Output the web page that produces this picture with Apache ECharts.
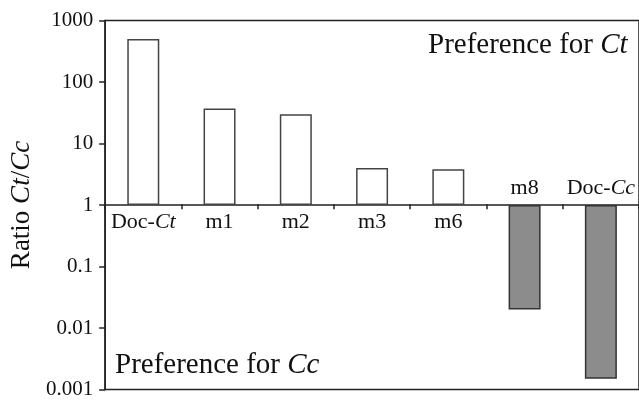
<!DOCTYPE html>
<html>
<head>
<meta charset="utf-8">
<script src="https://cdn.jsdelivr.net/npm/echarts@6/dist/echarts.min.js"></script>
<style>
html,body{margin:0;padding:0;background:#fff;}
#chart{width:639px;height:400px;}
</style>
</head>
<body>
<div id="chart"></div>
<script>
// ---- data ----
var categories = ['Doc-Ct', 'm1', 'm2', 'm3', 'm6', 'm8', 'Doc-Cc'];
var ratios = [500, 37, 30, 4.0, 3.8, 0.02, 0.0015];
var yTickLabels = ['0.001', '0.01', '0.1', '1', '10', '100', '1000'];

var SERIF = '"Liberation Serif", "Times New Roman", serif';

function richName(s) {
  return s.replace(/(Ct|Cc)/g, '{i|$1}');
}

var barData = ratios.map(function (v) {
  var up = v >= 1;
  return {
    value: v,
    itemStyle: up
      ? { color: '#ffffff', borderColor: '#444444', borderWidth: 1.5 }
      : { color: '#8c8c8c', borderColor: '#333333', borderWidth: 1.5 },
    label: { position: up ? 'bottom' : 'top', distance: up ? 6 : 6 }
  };
});

var chart = echarts.init(document.getElementById('chart'), null, { renderer: 'canvas' });

chart.setOption({
  animation: false,
  backgroundColor: '#ffffff',
  grid: {
    show: true,
    left: 105,
    top: 20.5,
    width: 542,
    height: 370.5,
    borderColor: '#222222',
    borderWidth: 1.5,
    backgroundColor: 'transparent'
  },
  xAxis: {
    type: 'category',
    data: categories,
    position: 'bottom',
    offset: -185.25,
    boundaryGap: true,
    axisLine: { show: true, lineStyle: { color: '#222222', width: 1.5 } },
    axisTick: { show: true, length: 5, alignWithLabel: false, lineStyle: { color: '#222222', width: 1.5 } },
    axisLabel: { show: false },
    splitLine: { show: false }
  },
  yAxis: {
    type: 'log',
    logBase: 10,
    min: 0.001,
    max: 1000,
    splitNumber: 6,
    name: 'Ratio {i|Ct}/{i|Cc}',
    nameLocation: 'middle',
    nameGap: 68,
    nameTextStyle: {
      fontFamily: SERIF, fontSize: 27, color: '#111111',
      rich: { i: { fontFamily: SERIF, fontSize: 27, fontStyle: 'italic', color: '#111111' } }
    },
    axisLine: { show: true, lineStyle: { color: '#222222', width: 1.5 } },
    axisTick: { show: true, length: 6, lineStyle: { color: '#222222', width: 1.5 } },
    axisLabel: {
      fontFamily: SERIF, fontSize: 21, color: '#111111', margin: 12,
      padding: [4, 0, 0, 0],
      formatter: function (v) {
        var e = Math.round(Math.log10(v));
        return yTickLabels[e + 3];
      }
    },
    splitLine: { show: false }
  },
  series: [{
    type: 'bar',
    data: barData,
    barWidth: 32,
    label: {
      show: true,
      fontFamily: SERIF, fontSize: 22, color: '#111111',
      formatter: function (p) { return richName(categories[p.dataIndex]); },
      rich: { i: { fontFamily: SERIF, fontSize: 22, fontStyle: 'italic', color: '#111111' } }
    }
  }],
  graphic: [
    {
      type: 'text', left: 428, top: 31,
      style: {
        text: 'Preference for {i|Ct}',
        font: '29px ' + SERIF, fill: '#111111',
        rich: { i: { fontFamily: SERIF, fontSize: 29, fontStyle: 'italic', fill: '#111111' } }
      }
    },
    {
      type: 'text', left: 115, top: 351,
      style: {
        text: 'Preference for {i|Cc}',
        font: '29px ' + SERIF, fill: '#111111',
        rich: { i: { fontFamily: SERIF, fontSize: 29, fontStyle: 'italic', fill: '#111111' } }
      }
    }
  ]
});
</script>
</body>
</html>
